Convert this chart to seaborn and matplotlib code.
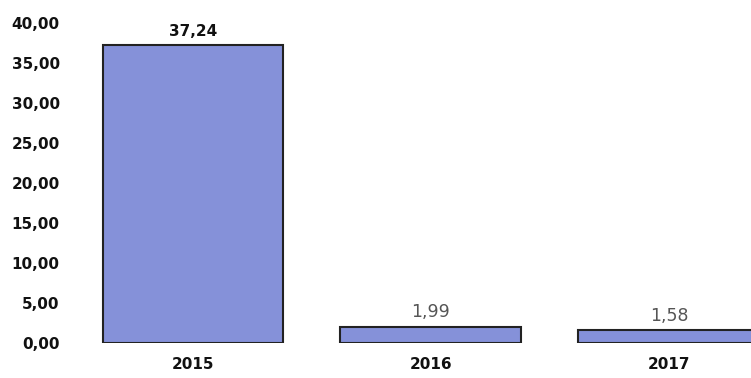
import matplotlib
matplotlib.use("Agg")
import matplotlib.pyplot as plt
import seaborn as sns
import pandas as pd

years = ["2015", "2016", "2017"]
values = [37.24, 1.99, 1.58]
label_colors = ["#111111", "#555555", "#555555"]
label_weights = ["bold", "normal", "normal"]
label_sizes = [11, 12.5, 12.5]
y_ticks = [0, 5, 10, 15, 20, 25, 30, 35, 40]

sns.set_theme(style="white")
plt.rcParams["font.family"] = ["DejaVu Sans"]

df = pd.DataFrame({"year": years, "value": values})

fig = plt.figure(figsize=(7.51, 3.78), dpi=100)
ax = fig.add_axes([93 / 751, 35 / 378, 1 - 93 / 751, 320 / 378])

sns.barplot(data=df, x="year", y="value", color="#8591d9", saturation=1,
            edgecolor="#222222", linewidth=1.5, width=0.76, ax=ax)

for i, (v, c, w, s) in enumerate(zip(values, label_colors, label_weights, label_sizes)):
    ax.text(i, v + 0.7, f"{v:.2f}".replace(".", ","), ha="center", va="bottom",
            fontsize=s, color=c, fontweight=w)

ax.set_ylim(0, 40)
ax.set_xlim(-0.42, 2.345)
ax.set_yticks(y_ticks)
ax.set_yticklabels([f"{t:.2f}".replace(".", ",") for t in y_ticks],
                   fontsize=11, fontweight="bold", color="#111111")
ax.tick_params(axis="y", length=0, pad=24)
ax.tick_params(axis="x", length=0, pad=10)
for lbl in ax.get_xticklabels():
    lbl.set_fontsize(11)
    lbl.set_fontweight("bold")
    lbl.set_color("#111111")
ax.set_xlabel("")
ax.set_ylabel("")
for s in ax.spines.values():
    s.set_visible(False)

fig.savefig("out.png", dpi=100)
